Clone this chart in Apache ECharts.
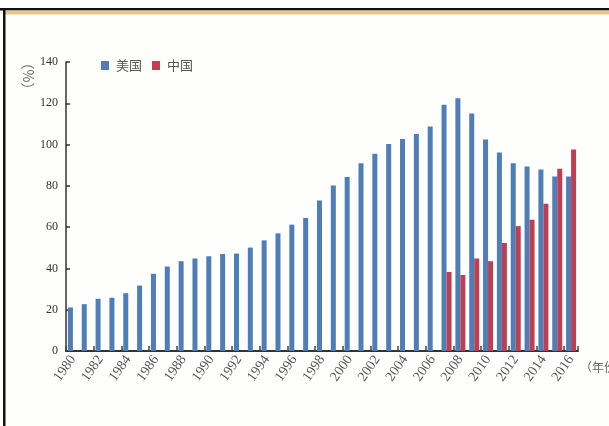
<!DOCTYPE html>
<html>
<head>
<meta charset="utf-8">
<script src="https://cdn.jsdelivr.net/npm/echarts@6/dist/echarts.min.js"></script>
<style>
  html, body { margin: 0; padding: 0; background: #fefefd; }
  #chart { width: 609px; height: 426px; }
</style>
</head>
<body>
<div id="chart"></div>
<script>
// Years on the category axis
const years = [];
for (let y = 1980; y <= 2016; y++) years.push(String(y));

// 美国 series, 1980–2016
const usValues = [
  21.1, 22.7, 25.3, 25.8, 28.0, 31.7, 37.4, 40.9, 43.5, 44.8, 45.9,
  47.0, 47.2, 50.1, 53.6, 57.0, 61.2, 64.4, 72.9, 80.2, 84.3,
  91.0, 95.5, 100.3, 102.7, 105.1, 108.7, 119.3, 122.4, 115.1, 102.4,
  96.1, 91.0, 89.4, 87.9, 84.5, 84.5
];

// 中国 series, only reported from 2007
const cnValues = [
  null, null, null, null, null, null, null, null, null, null, null,
  null, null, null, null, null, null, null, null, null, null,
  null, null, null, null, null, null, 38.3, 36.8, 44.8, 43.5,
  52.3, 60.5, 63.6, 71.3, 88.3, 97.6
];

const seriesNames = ['美国', '中国'];
const yAxisUnit = '（%）';
const xAxisUnit = '（年份）';

const chart = echarts.init(document.getElementById('chart'), null, { renderer: 'canvas' });

chart.setOption({
  backgroundColor: '#fefefd',
  animation: false,
  graphic: [
    // frame: dark top rule with a tan band underneath, and the left rule
    { type: 'rect', shape: { x: 0, y: 8, width: 609, height: 2.5 }, style: { fill: '#111' }, silent: true },
    { type: 'rect', shape: { x: 4, y: 10.5, width: 605, height: 4 }, style: { fill: '#e8c68c' }, silent: true },
    { type: 'rect', shape: { x: 3, y: 8, width: 2.5, height: 418 }, style: { fill: '#111' }, silent: true },
    // vertical unit label of the value axis
    {
      type: 'text', x: 28, y: 76, rotation: -Math.PI / 2,
      style: {
        text: yAxisUnit, fill: '#666', font: '14px "Noto Sans CJK SC"',
        align: 'center', verticalAlign: 'middle'
      },
      silent: true
    }
  ],
  legend: {
    data: seriesNames,
    left: 96,
    top: 54,
    icon: 'rect',
    itemWidth: 8,
    itemHeight: 9,
    itemGap: 10,
    textStyle: { fontFamily: '"Noto Sans CJK SC"', fontSize: 13, color: '#555', padding: [0, 0, 0, 2] }
  },
  grid: { left: 66, right: 31, top: 62, bottom: 75, containLabel: false, outerBoundsMode: 'none' },
  xAxis: {
    type: 'category',
    data: years,
    boundaryGap: true,
    name: xAxisUnit,
    nameLocation: 'end',
    nameGap: 2,
    nameTextStyle: {
      fontFamily: '"Noto Sans CJK SC"', fontSize: 12, color: '#666',
      verticalAlign: 'top', padding: [10, 0, 0, 0]
    },
    axisLine: { lineStyle: { color: '#333', width: 2 } },
    axisTick: { show: true, inside: true, interval: 1, length: 5, lineStyle: { color: '#444', width: 1.5 } },
    axisLabel: {
      interval: 1,
      rotate: 55,
      margin: 6,
      fontFamily: '"Liberation Serif"',
      fontSize: 14,
      color: '#555'
    }
  },
  yAxis: {
    type: 'value',
    min: 0,
    max: 140,
    interval: 20,
    axisLine: { show: true, lineStyle: { color: '#333', width: 1.5 } },
    axisTick: { show: true, inside: true, length: 4, lineStyle: { color: '#333', width: 1.5 } },
    axisLabel: {
      margin: 8,
      fontFamily: '"Liberation Serif"',
      fontSize: 12,
      color: '#333'
    },
    splitLine: { show: false }
  },
  series: [
    {
      name: seriesNames[0],
      type: 'bar',
      data: usValues,
      barWidth: 5,
      barGap: '0%',
      itemStyle: { color: '#4f7db8' }
    },
    {
      name: seriesNames[1],
      type: 'bar',
      data: cnValues,
      barWidth: 5,
      barGap: '0%',
      itemStyle: { color: '#bd3f52' }
    }
  ]
});
</script>
</body>
</html>
